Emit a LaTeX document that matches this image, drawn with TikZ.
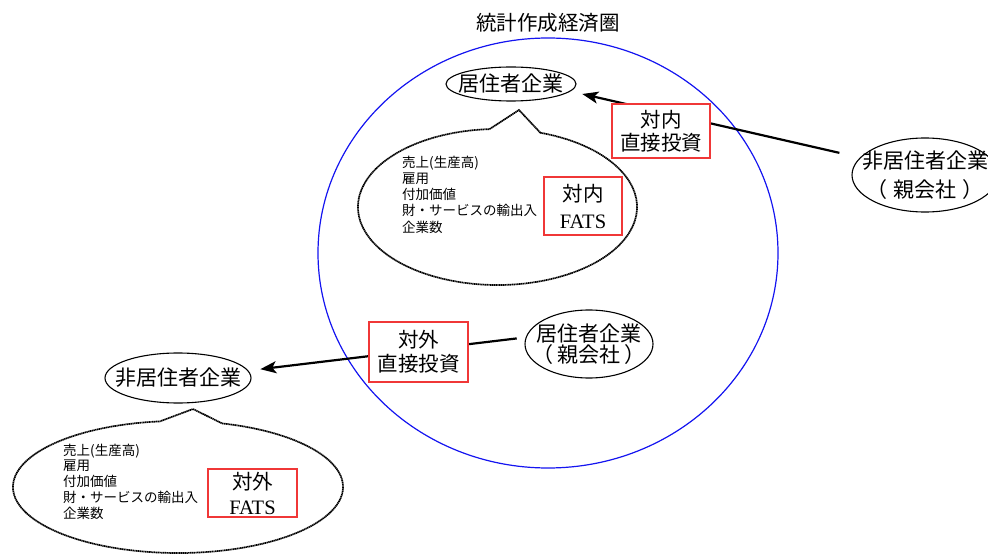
\documentclass[tikz,border=0pt]{standalone}
\usepackage{fontspec}
\setmainfont{Noto Sans CJK JP}
\newfontfamily\fatsfont{Liberation Serif}
\usetikzlibrary{shapes.geometric,arrows.meta}
\definecolor{boxred}{RGB}{240,55,55}
\definecolor{zoneblue}{RGB}{20,20,240}
\tikzset{
  zone/.style={draw=zoneblue, line width=1.2pt},
  titletext/.style={inner sep=0pt, font=\fontsize{20.5}{24}\selectfont},
  ent/.style={draw, ellipse, line width=1.1pt, inner xsep=-45pt, inner ysep=-8pt, align=center},
  rbox/.style={draw=boxred, line width=1.3pt, fill=white, inner sep=0pt, align=center},
  bubble/.style={line width=1.7pt, dash pattern=on 1.3pt off 0.5pt},
  listtext/.style={anchor=west, align=left, inner sep=0pt, font=\fontsize{13.5}{16.2}\selectfont},
  arr/.style={line width=2.2pt, -{Stealth[length=16pt,width=12pt,inset=4pt]}},
}
\begin{document}
\begin{tikzpicture}[x=1pt,y=-1pt]
\useasboundingbox (0,0) rectangle (988,556);
\clip (0,0) rectangle (988,556);

% economic territory
\draw[zone] (548,253) ellipse [x radius=230, y radius=215];
\node[titletext] (ttl) at (548,23) {統計作成経済圏};

% speech bubbles
\draw[bubble] (497.5,207) ++(287.9:139.5 and 78)
  arc[start angle=287.9, end angle=626.7, x radius=139.5, y radius=78]
  -- (519,110) -- cycle;
\draw[bubble] (178,487) ++(285.5:165 and 66)
  arc[start angle=285.5, end angle=623.7, x radius=165, y radius=66]
  -- (193,409) -- cycle;

% enterprises
\node[ent, minimum width=130pt, minimum height=34pt, font=\fontsize{21}{21}\selectfont] (res) at (511,84) {居住者企業};
\node[ent, minimum width=146pt, minimum height=74pt, font=\fontsize{21}{29}\selectfont] (nonresP) at (925,175) {非居住者企業\\（\hspace{0.3em}親会社\hspace{0.3em}）};
\node[ent, minimum width=128pt, minimum height=68pt, font=\fontsize{21}{21}\selectfont] (resP) at (589,344) {居住者企業\\（\hspace{0.2em}親会社\hspace{0.2em}）};
\node[ent, minimum width=146pt, minimum height=50pt, font=\fontsize{21}{21}\selectfont] (nonres) at (178,378) {非居住者企業};

% investment arrows
\draw[arr, shorten <=21pt, shorten >=12pt] (nonresP.165) -- (res.-7);
\draw[arr, shorten <=9pt, shorten >=12pt] (resP.174) -- (nonres.6);

% red boxes
\node[rbox, minimum width=98pt, minimum height=54pt, font=\fontsize{20.5}{23.5}\selectfont] (fdiIn) at (661,131) {対内\\直接投資};
\node[rbox, minimum width=99pt, minimum height=60pt, font=\fontsize{20.5}{24}\selectfont] (fdiOut) at (418.5,352) {対外\\直接投資};
\node[rbox, minimum width=78pt, minimum height=58pt, font=\fontsize{20.5}{27}\selectfont] (fatsIn) at (583,206) {対内\\{\fatsfont FATS}};
\node[rbox, minimum width=89pt, minimum height=48pt, font=\fontsize{20.5}{25}\selectfont] (fatsOut) at (252.5,493) {対外\\{\fatsfont FATS}};

% indicator lists
\node[listtext] (listIn) at (402,194.5) {売上(生産高)\\雇用\\付加価値\\財・サービスの輸出入\\企業数};
\node[listtext, font=\fontsize{13.5}{15.8}\selectfont] (listOut) at (63,481.5) {売上(生産高)\\雇用\\付加価値\\財・サービスの輸出入\\企業数};
\end{tikzpicture}
\end{document}
